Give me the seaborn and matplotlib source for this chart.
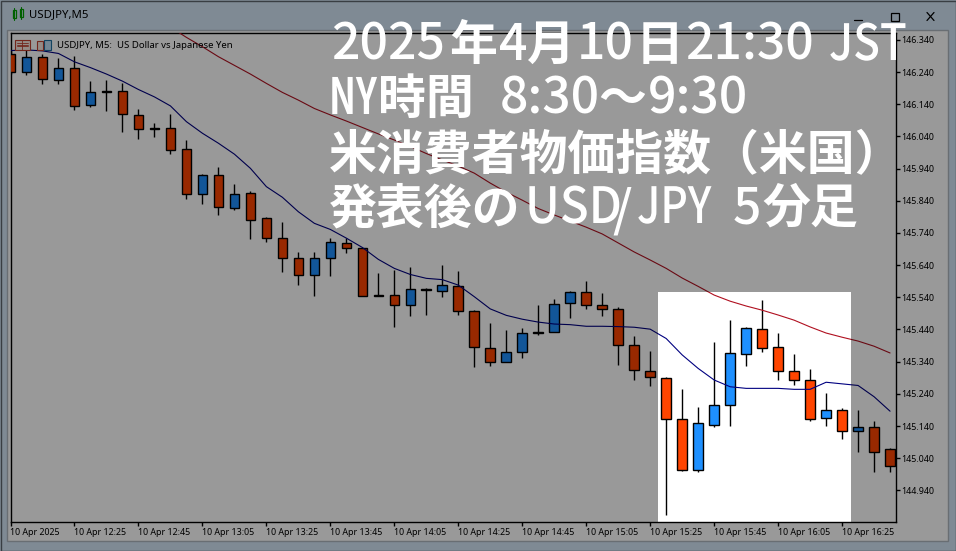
import numpy as np
import seaborn as sns
import matplotlib
matplotlib.use("Agg")
import matplotlib.pyplot as plt
from matplotlib.patches import Rectangle
from matplotlib.lines import Line2D
from matplotlib.patheffects import AbstractPathEffect
from matplotlib.transforms import Affine2D

# USDJPY M5 candles, 10 Apr 2025
opens = [146.295, 146.239, 146.286, 146.215, 146.252, 146.137, 146.180, 146.180, 146.106, 146.066,
         146.065, 146.000, 145.860, 145.919, 145.817, 145.863, 145.786, 145.723, 145.661, 145.608,
         145.661, 145.710, 145.692, 145.546, 145.546, 145.515, 145.565, 145.560, 145.574, 145.497,
         145.381, 145.338, 145.369, 145.431, 145.431, 145.521, 145.556, 145.515, 145.503, 145.391,
         145.310, 145.288, 145.161, 145.002, 145.142, 145.204, 145.363, 145.441, 145.385, 145.310,
         145.282, 145.164, 145.189, 145.123, 145.136, 145.067]
highs = [146.309, 146.309, 146.296, 146.283, 146.290, 146.212, 146.215, 146.205, 146.124, 146.081,
         146.109, 146.028, 145.923, 145.944, 145.892, 145.869, 145.789, 145.773, 145.680, 145.680,
         145.723, 145.724, 145.693, 145.616, 145.625, 145.633, 145.569, 145.640, 145.622, 145.500,
         145.459, 145.438, 145.444, 145.516, 145.534, 145.560, 145.590, 145.552, 145.509, 145.419,
         145.373, 145.291, 145.255, 145.199, 145.401, 145.469, 145.447, 145.532, 145.429, 145.364,
         145.317, 145.242, 145.195, 145.189, 145.155, 145.071]
lows = [146.235, 146.232, 146.202, 146.202, 146.121, 146.131, 146.120, 146.055, 146.031, 146.039,
        145.985, 145.847, 145.831, 145.797, 145.812, 145.722, 145.713, 145.620, 145.579, 145.545,
        145.607, 145.679, 145.543, 145.544, 145.449, 145.483, 145.486, 145.542, 145.484, 145.324,
        145.327, 145.338, 145.352, 145.424, 145.431, 145.477, 145.503, 145.483, 145.330, 145.284,
        145.264, 144.863, 145.000, 144.998, 145.136, 145.141, 145.326, 145.370, 145.283, 145.267,
        145.156, 145.141, 145.100, 145.059, 144.997, 144.997]
closes = [146.239, 146.286, 146.218, 146.252, 146.134, 146.177, 146.178, 146.109, 146.062, 146.064,
          145.997, 145.860, 145.919, 145.820, 145.860, 145.779, 145.723, 145.661, 145.608, 145.661,
          145.711, 145.692, 145.543, 145.544, 145.515, 145.565, 145.563, 145.577, 145.497, 145.385,
          145.338, 145.369, 145.428, 145.429, 145.518, 145.556, 145.515, 145.503, 145.391, 145.313,
          145.291, 145.161, 145.002, 145.148, 145.204, 145.366, 145.444, 145.381, 145.310, 145.282,
          145.161, 145.189, 145.123, 145.136, 145.058, 145.015]

# moving averages
ma_blue = [146.307, 146.309, 146.306, 146.298, 146.272, 146.254, 146.234, 146.212, 146.186, 146.163,
           146.135, 146.086, 146.050, 146.019, 145.985, 145.941, 145.884, 145.851, 145.806, 145.770,
           145.751, 145.724, 145.695, 145.658, 145.630, 145.611, 145.599, 145.595, 145.578, 145.542,
           145.504, 145.484, 145.472, 145.463, 145.457, 145.455, 145.450, 145.450, 145.449, 145.447,
           145.441, 145.412, 145.361, 145.319, 145.283, 145.262, 145.257, 145.257, 145.257, 145.254,
           145.254, 145.276, 145.271, 145.266, 145.231, 145.186]
ma_red = [146.380, 146.348, 146.319, 146.288, 146.261, 146.234, 146.205, 146.177, 146.153, 146.127,
          146.107, 146.088, 146.068, 146.048, 146.029, 146.009, 145.987, 145.967, 145.948, 145.926,
          145.895, 145.867, 145.842, 145.816, 145.796, 145.777, 145.758, 145.737, 145.709, 145.681,
          145.656, 145.630, 145.600, 145.574, 145.547, 145.528, 145.513, 145.500, 145.485, 145.469,
          145.448, 145.429, 145.416, 145.404, 145.388, 145.367]
ma_red_start = 10

y_ticks = [146.34, 146.24, 146.14, 146.04, 145.94, 145.84, 145.74, 145.64, 145.54, 145.44,
           145.34, 145.24, 145.14, 145.04, 144.94]
x_labels = ["10 Apr 2025", "10 Apr 12:25", "10 Apr 12:45", "10 Apr 13:05", "10 Apr 13:25",
            "10 Apr 13:45", "10 Apr 14:05", "10 Apr 14:25", "10 Apr 14:45", "10 Apr 15:05",
            "10 Apr 15:25", "10 Apr 15:45", "10 Apr 16:05", "10 Apr 16:25"]

W, H = 956, 551
CJK = ["Noto Sans CJK JP", "DejaVu Sans"]

sns.set_theme(style="white")
plt.rcParams["font.family"] = ["Noto Sans", "DejaVu Sans"]


def fx(x):
    return x / W


def fy(y):
    return 1 - y / H


def box(x0, y0, x1, y1, **kw):
    r = Rectangle((fx(x0), fy(y1)), (x1 - x0) / W, (y1 - y0) / H, transform=fig.transFigure, **kw)
    fig.add_artist(r)


def seg(x0, y0, x1, y1, color="black", lw=0.9, zorder=3):
    fig.add_artist(Line2D([fx(x0), fx(x1)], [fy(y0), fy(y1)], color=color, lw=lw, zorder=zorder))


# the caption's latin letters are narrower than any installed font
class Squeeze(AbstractPathEffect):
    def __init__(self, x0, sx):
        super().__init__()
        self.shrink = Affine2D().translate(-x0, 0).scale(sx, 1).translate(x0, 0)

    def draw_path(self, renderer, gc, tpath, affine, rgbFace=None):
        renderer.draw_path(gc, tpath, affine + self.shrink, rgbFace)


fig = plt.figure(figsize=(W / 100, H / 100), dpi=100, facecolor="#d4e6f8")

# window client area behind the chart
box(0.5, 0.5, 955.5, 550.5, facecolor="none", edgecolor="#606870", lw=1, zorder=-1)
box(7, 30, 948, 541, facecolor="white", edgecolor="#b0b8c0", lw=1, zorder=-1)

ax = fig.add_axes([fx(10.5), fy(522), (895.5 - 10.5) / W, (522 - 33) / H], facecolor="white", zorder=1)

idx = np.arange(len(opens))
o = np.array(opens)
c = np.array(closes)
up = c >= o
ax.vlines(idx, lows, highs, color="black", lw=1.0, zorder=2)
ax.bar(idx, np.abs(c - o), bottom=np.minimum(o, c), width=0.6,
       color=["#1E90FF" if u else "#FF4500" for u in up], edgecolor="black", lw=1.0, zorder=3)

sns.lineplot(x=idx, y=ma_blue, ax=ax, color="#000080", lw=0.8, errorbar=None, zorder=4)
sns.lineplot(x=idx[ma_red_start:], y=ma_red, ax=ax, color="#B01020", lw=0.8, errorbar=None, zorder=4)

ax.set_xlim(0.03, 55.34)
ax.set_ylim(144.8416, 146.3616)
ax.yaxis.tick_right()
ax.set_yticks(y_ticks)
ax.set_yticklabels(["%.3f" % t for t in y_ticks])
ax.set_xticks(np.arange(len(x_labels)) * 4)
ax.set_xticklabels(x_labels, ha="left")
ax.tick_params(axis="both", which="major", length=3, width=1, color="black", labelcolor="black",
               labelsize=6.4, pad=1, bottom=True, right=True, left=False)
for s in ax.spines.values():
    s.set_color("black")
    s.set_linewidth(1.0)
    s.set_visible(True)
ax.set_xlabel("")
ax.set_ylabel("")

# chart header, window title and buttons
fig.text(fx(57), fy(45), "USDJPY, M5:  US Dollar vs Japanese Yen", fontsize=6.9, color="black", va="center", zorder=3)
fig.text(fx(29), fy(15), "USDJPY,M5", fontsize=8.2, color="black", va="center", zorder=3)
box(15, 39.5, 29.5, 49.5, facecolor="#f8e8e0", edgecolor="#c04030", lw=0.8, zorder=3)
for yy in (42.5, 44.5, 46.5):
    seg(17, yy, 28, yy, color="#c04030", lw=0.6)
seg(22, 39.5, 22, 49.5, color="#c04030", lw=0.6)
box(37, 41, 43, 49.5, facecolor="#f8e8e0", edgecolor="#c04030", lw=0.8, zorder=3)
box(44, 39.5, 50.5, 49.5, facecolor="#c0e0f8", edgecolor="#2070a0", lw=0.8, zorder=3)
for x0, h0, h1 in [(14, 10, 18), (21, 9, 17)]:
    box(x0 - 1.5, h0, x0 + 1.5, h1, facecolor="none", edgecolor="#00a000", lw=0.9, zorder=3)
    seg(x0, h0 - 2, x0, h1 + 2, color="#00a000", lw=0.8)
seg(854, 20, 862, 20)
box(890.5, 12.5, 898.5, 20.5, facecolor="none", edgecolor="black", lw=0.9, zorder=3)
seg(927, 12.5, 934, 20.5)
seg(927, 20.5, 934, 12.5)

# dark screen over everything but the highlighted window
shade = dict(facecolor="black", edgecolor="none", alpha=0.4, zorder=5)
box(0, 0, W, 292, **shade)
box(0, 522, W, H, **shade)
box(0, 292, 658, 522, **shade)
box(851, 292, W, 522, **shade)

# overlay caption: (x, baseline, text, size)
LATIN = 36
KANJI = 34.5
narrow = {"NY": 0.72, "JST": 0.88, "JPY": 0.85, "USD": 0.95}
caption = [
    (331, 60, "2025", LATIN), (449, 60, "年", KANJI), (499, 60, "4", LATIN), (527, 60, "月", KANJI),
    (577, 60, "10", LATIN), (636, 60, "日", KANJI), (685, 60, "21:30", LATIN), (829, 60, "JST", LATIN),
    (329, 114, "NY", LATIN), (378, 114, "時間", KANJI), (500, 114, "8:30", LATIN), (598, 114, "～", KANJI),
    (648, 114, "9:30", LATIN),
    (329, 170, "米消費者物価指数（米国）", KANJI),
    (329, 223, "発表後の", KANJI), (525, 223, "USD", LATIN), (612, 226, "/", LATIN), (637, 223, "JPY", LATIN),
    (733, 223, "5", LATIN), (762, 223, "分足", KANJI),
]
for x, y, txt, size in caption:
    bold = size == KANJI or txt == "NY"
    t = fig.text(fx(x), fy(y), txt, fontsize=size, color="white", family=CJK,
                 weight="bold" if bold else "medium", va="baseline", ha="left", zorder=6)
    if txt in narrow:
        t.set_path_effects([Squeeze(x, narrow[txt])])

fig.savefig("out.png", dpi=100, facecolor=fig.get_facecolor())
